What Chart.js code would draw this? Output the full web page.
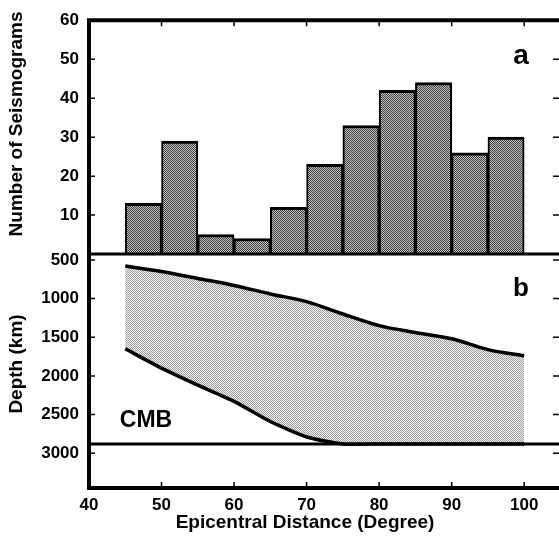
<!DOCTYPE html>
<html>
<head>
<meta charset="utf-8">
<script src="https://cdn.jsdelivr.net/npm/chart.js@4"></script>
<style>
  html, body { margin: 0; padding: 0; background: #fff; overflow: hidden; }
</style>
</head>
<body>
<canvas id="grafico" width="559" height="546"></canvas>
<script>
// --- DATOS ---
// histograma (a): centro de cada intervalo de 5 grados y número de sismogramas
const centrosIntervalo = [47.5, 52.5, 57.5, 62.5, 67.5, 72.5, 77.5, 82.5, 87.5, 92.5, 97.5];
const numSismogramas = [13, 29, 5, 4, 12, 23, 33, 42, 44, 26, 30];

// perfil (b): distancia epicentral y profundidades de la zona muestreada
const distancias = [45, 50, 55, 60, 65, 70, 75, 80, 85, 90, 95, 100];
const profSuperior = [580, 650, 740, 830, 940, 1040, 1200, 1350, 1440, 1520, 1660, 1740];
const profInferior = [1650, 1900, 2120, 2330, 2590, 2790, 2880, 2880, 2880, 2880, 2880, 2880];
const profCMB = 2880;

// etiquetas de los ejes
const ticksProf = [500, 1000, 1500, 2000, 2500, 3000];
const ticksConteo = [10, 20, 30, 40, 50, 60];

const X_MIN = 40, X_MAX = 104.8;

const fuente = "'Liberation Sans', Arial, sans-serif";
Chart.defaults.font.family = fuente;
Chart.defaults.font.weight = 'bold';
Chart.defaults.color = '#000';

const fuenteTicks = { family: fuente, size: 17, weight: 'bold' };

// tramas punteadas
function trama(c1, c2) {
  const p = document.createElement('canvas');
  p.width = 2; p.height = 2;
  const g = p.getContext('2d');
  g.fillStyle = c2; g.fillRect(0, 0, 2, 2);
  g.fillStyle = c1; g.fillRect(0, 0, 1, 1); g.fillRect(1, 1, 1, 1);
  return g.createPattern(p, 'repeat');
}
const tramaBarras = trama('#3c3c3c', '#c4c4c4');
const tramaZona = trama('#9c9c9c', '#f4f4f4');

// marco, ticks interiores y rótulos
const marco = {
  id: 'marco',
  afterDraw(chart) {
    const { ctx, chartArea: a, scales } = chart;
    const x = scales.x, yC = scales.yCount, yD = scales.yDepth;
    ctx.save();
    ctx.strokeStyle = '#000';

    ctx.lineWidth = 1.5;
    ctx.beginPath();
    x.ticks.forEach(t => {
      const px = x.getPixelForValue(t.value);
      ctx.moveTo(px, a.top); ctx.lineTo(px, a.top + 6);
      ctx.moveTo(px, a.bottom); ctx.lineTo(px, a.bottom - 6);
    });
    [yC, yD].forEach(sc => {
      sc.ticks.forEach(t => {
        const py = sc.getPixelForValue(t.value);
        ctx.moveTo(a.left, py); ctx.lineTo(a.left + 6, py);
        ctx.moveTo(a.right, py); ctx.lineTo(a.right - 6, py);
      });
    });
    ctx.stroke();

    ctx.lineWidth = 4;
    ctx.beginPath();
    ctx.moveTo(a.right, a.top); ctx.lineTo(a.left, a.top);
    ctx.lineTo(a.left, a.bottom); ctx.lineTo(a.right, a.bottom);
    ctx.stroke();

    ctx.lineWidth = 3;
    const y0 = yC.getPixelForValue(0);
    ctx.beginPath();
    ctx.moveTo(a.left, y0); ctx.lineTo(a.right, y0);
    ctx.stroke();

    ctx.fillStyle = '#000';
    ctx.textAlign = 'center';
    ctx.textBaseline = 'middle';
    ctx.font = 'bold 28px ' + fuente;
    ctx.fillText('a', 521, 56);
    ctx.font = 'bold 26px ' + fuente;
    ctx.fillText('b', 521, 289);
    ctx.font = 'bold 23px ' + fuente;
    ctx.fillText('CMB', 146, 421);
    ctx.font = 'bold 19px ' + fuente;
    ctx.fillText('Epicentral Distance (Degree)', 305, 523);

    // títulos verticales
    ctx.save();
    ctx.translate(17, 124);
    ctx.rotate(-Math.PI / 2);
    ctx.fillText('Number of Seismograms', 0, 0);
    ctx.restore();
    ctx.save();
    ctx.translate(17, 364);
    ctx.rotate(-Math.PI / 2);
    ctx.fillText('Depth (km)', 0, 0);
    ctx.restore();
    ctx.restore();
  }
};

const ctx = document.getElementById('grafico').getContext('2d');
const grafico = new Chart(ctx, {
  type: 'bar',
  data: {
    datasets: [
      {
        type: 'bar',
        data: centrosIntervalo.map((x, i) => ({ x, y: numSismogramas[i] })),
        yAxisID: 'yCount',
        backgroundColor: tramaBarras,
        borderColor: '#000',
        borderWidth: { top: 3, left: 2, right: 2, bottom: 0 },
        borderSkipped: false,
        barPercentage: 1,
        categoryPercentage: 1,
      },
      {
        type: 'line',
        data: distancias.map((x, i) => ({ x, y: profSuperior[i] })),
        yAxisID: 'yDepth',
        borderColor: '#000',
        borderWidth: 3.5,
        pointRadius: 0,
        tension: 0.3,
        fill: '+1',
        backgroundColor: tramaZona,
      },
      {
        type: 'line',
        data: distancias.map((x, i) => ({ x, y: profInferior[i] })),
        yAxisID: 'yDepth',
        borderColor: '#000',
        borderWidth: 3.5,
        pointRadius: 0,
        tension: 0.2,
        fill: false,
      },
      {
        type: 'line',
        data: [{ x: X_MIN, y: profCMB }, { x: X_MAX, y: profCMB }],
        yAxisID: 'yDepth',
        borderColor: '#000',
        borderWidth: 3,
        pointRadius: 0,
        fill: false,
      },
    ],
  },
  options: {
    responsive: false,
    animation: false,
    layout: { padding: { top: 16, right: 0, left: 0, bottom: 0 } },
    plugins: {
      legend: { display: false },
      tooltip: { enabled: false },
      filler: { drawTime: 'beforeDatasetsDraw' },
    },
    scales: {
      x: {
        type: 'linear',
        min: X_MIN,
        max: X_MAX,
        offset: false,
        grid: { display: false, drawTicks: false },
        border: { display: false },
        ticks: { stepSize: 10, includeBounds: false, autoSkip: false, padding: 7, font: fuenteTicks },
        afterFit: s => { s.height = 58; },
      },
      yDepth: {
        type: 'linear',
        position: 'left',
        stack: 'paneles',
        stackWeight: 1,
        reverse: true,
        min: 425,
        max: 3450,
        grid: { display: false, drawTicks: false },
        border: { display: false },
        ticks: { padding: 10, autoSkip: false, font: fuenteTicks, callback: v => String(v) },
        afterBuildTicks: s => { s.ticks = ticksProf.map(v => ({ value: v })); },
        afterFit: s => { s.width = 89; },
      },
      yCount: {
        type: 'linear',
        position: 'left',
        stack: 'paneles',
        stackWeight: 1,
        min: 0,
        max: 60,
        grid: { display: false, drawTicks: false },
        border: { display: false },
        ticks: { padding: 10, autoSkip: false, font: fuenteTicks, callback: v => String(v) },
        afterBuildTicks: s => { s.ticks = ticksConteo.map(v => ({ value: v })); },
        afterFit: s => { s.width = 89; },
      },
    },
  },
  plugins: [marco],
});
</script>
</body>
</html>
